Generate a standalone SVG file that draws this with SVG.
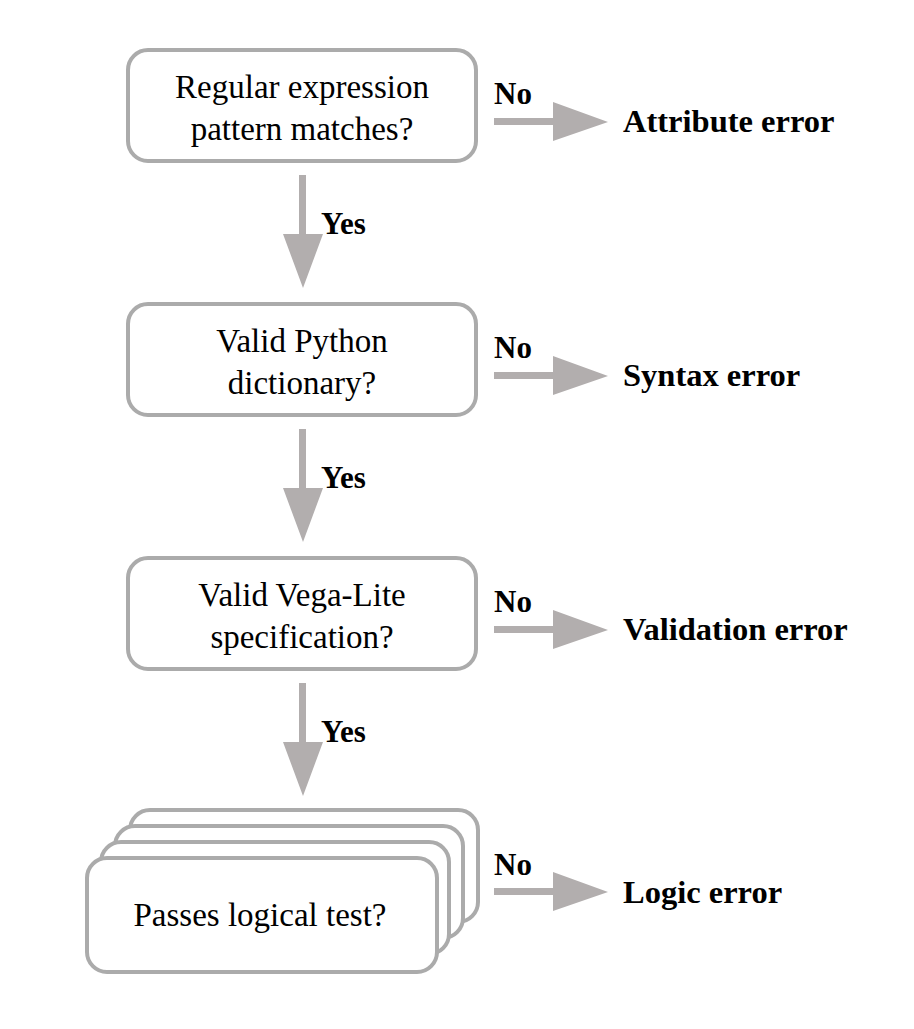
<svg xmlns="http://www.w3.org/2000/svg" width="914" height="1029" viewBox="0 0 914 1029">
<style>
.box{fill:#fff;stroke:#ababab;stroke-width:4}
.t{font-family:"Liberation Serif","Times New Roman",serif;font-size:33px;fill:#000;text-anchor:middle}
.b{font-family:"Liberation Serif","Times New Roman",serif;font-size:31px;font-weight:bold;fill:#000}
.e{font-family:"Liberation Serif","Times New Roman",serif;font-size:32.5px;font-weight:bold;fill:#000}
.arr{fill:#b2aeae}
</style>
<rect width="914" height="1029" fill="#fff"/>
<g id="node-regex">
<rect class="box" x="128" y="50" width="348" height="111" rx="20"/>
<text class="t" x="302" y="98">Regular expression</text>
<text class="t" x="302" y="140">pattern matches?</text>
</g>
<g id="node-python">
<rect class="box" x="128" y="304" width="348" height="111" rx="20"/>
<text class="t" x="302" y="352">Valid Python</text>
<text class="t" x="302" y="394">dictionary?</text>
</g>
<g id="node-vega">
<rect class="box" x="128" y="558" width="348" height="111" rx="20"/>
<text class="t" x="302" y="606">Valid Vega-Lite</text>
<text class="t" x="302" y="648">specification?</text>
</g>
<g id="node-logic">
<rect class="box" x="130" y="810" width="348" height="112" rx="20"/>
<rect class="box" x="115" y="826" width="348" height="112" rx="20"/>
<rect class="box" x="101" y="842" width="348" height="112" rx="20"/>
<rect class="box" x="87" y="858" width="350" height="114" rx="20"/>
<text class="t" x="260" y="926">Passes logical test?</text>
</g>
<g id="node-attr"><text class="e" x="623" y="132">Attribute error</text></g>
<g id="node-syntax"><text class="e" x="623" y="386">Syntax error</text></g>
<g id="node-valid"><text class="e" x="623" y="640">Validation error</text></g>
<g id="node-logicerr"><text class="e" x="623" y="903">Logic error</text></g>
<g id="connectors">
<path class="arr" d="M494,118 H553 V102 L608,122 L553,141 V125 H494 Z"/>
<path class="arr" d="M494,372 H553 V356 L608,376 L553,395 V379 H494 Z"/>
<path class="arr" d="M494,626 H553 V610 L608,630 L553,649 V633 H494 Z"/>
<path class="arr" d="M494,888 H553 V872 L608,892 L553,911 V895 H494 Z"/>
<path class="arr" d="M299,175 V234 H283 L303,288 L323,234 H306 V175 Z"/>
<path class="arr" d="M299,429 V488 H283 L303,542 L323,488 H306 V429 Z"/>
<path class="arr" d="M299,683 V742 H283 L303,796 L323,742 H306 V683 Z"/>
<text class="b" x="494" y="104">No</text>
<text class="b" x="494" y="358">No</text>
<text class="b" x="494" y="612">No</text>
<text class="b" x="494" y="875">No</text>
<text class="b" x="321" y="234">Yes</text>
<text class="b" x="321" y="488">Yes</text>
<text class="b" x="321" y="742">Yes</text>
</g>
</svg>
